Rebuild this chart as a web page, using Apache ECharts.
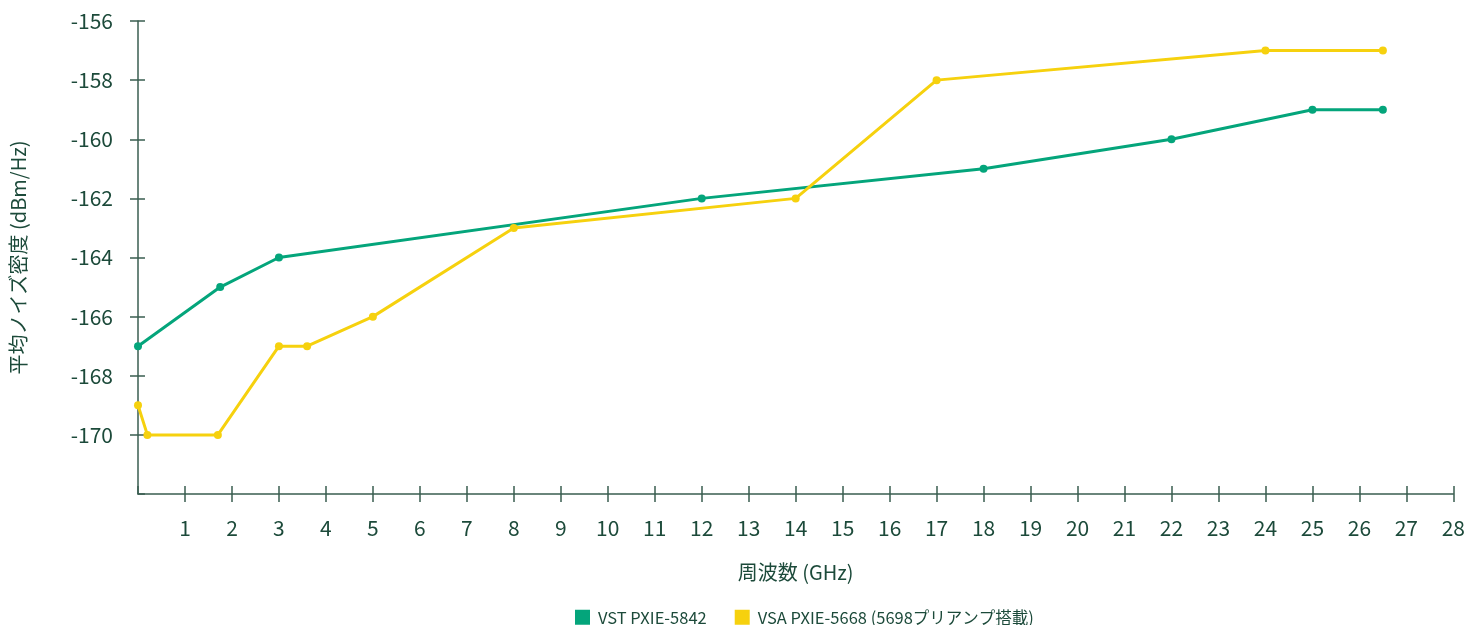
<!DOCTYPE html>
<html>
<head>
<meta charset="utf-8">
<script src="https://cdn.jsdelivr.net/npm/echarts@6/dist/echarts.min.js"></script>
<style>
  html, body { margin: 0; padding: 0; background: #fff; }
  #chart { width: 1468px; height: 625px; }
</style>
</head>
<body>
<div id="chart"></div>
<script>
// 周波数 (GHz) / 平均ノイズ密度 (dBm/Hz)
var vstName = "VST PXIE-5842";
var vstFreq = [0, 1.75, 3, 12, 18, 22, 25, 26.5];
var vstNoise = [-167, -165, -164, -162, -161, -160, -159, -159];

var vsaName = "VSA PXIE-5668 (5698プリアンプ搭載)";
var vsaFreq = [0, 0.2, 1.7, 3, 3.6, 5, 8, 14, 17, 24, 26.5];
var vsaNoise = [-169, -170, -170, -167, -167, -166, -163, -162, -158, -157, -157];

var xRange = [0, 28];
var yRange = [-172, -156];

var textColor = "#1c4a3a";
var axisColor = "#3a5e50";
var font = "'Noto Sans CJK JP', 'Noto Sans', sans-serif";

function pairs(xs, ys) {
  return xs.map(function (x, i) { return [x, ys[i]]; });
}

var chart = echarts.init(document.getElementById("chart"));

var option = {
  animation: false,
  textStyle: { fontFamily: font, color: textColor },
  grid: { left: 133, top: 21, right: 14, bottom: 131 },
  legend: {
    left: 575,
    top: 609,
    padding: 0,
    itemWidth: 15,
    itemHeight: 15,
    itemGap: 28,
    icon: "rect",
    textStyle: { fontFamily: font, fontSize: 16.5, color: textColor, padding: [0, 0, 0, 3] },
    data: [vstName, vsaName]
  },
  xAxis: [
    {
      type: "value",
      min: xRange[0],
      max: xRange[1],
      interval: 1,
      name: "周波数 (GHz)",
      nameLocation: "middle",
      nameGap: 68,
      nameTextStyle: { fontFamily: font, fontSize: 20, color: textColor },
      axisLine: { show: true, lineStyle: { color: axisColor, width: 1.5 } },
      axisTick: { show: true, length: 8, lineStyle: { color: axisColor, width: 1.5 } },
      axisLabel: {
        showMinLabel: false,
        margin: 24,
        fontFamily: font,
        fontSize: 21,
        color: textColor
      },
      splitLine: { show: false }
    },
    {
      type: "value",
      position: "bottom",
      min: xRange[0],
      max: xRange[1],
      interval: 1,
      axisLine: { show: false },
      axisTick: { show: true, inside: true, length: 8, lineStyle: { color: axisColor, width: 1.5 } },
      axisLabel: { show: false },
      splitLine: { show: false }
    }
  ],
  yAxis: [
    {
      type: "value",
      min: yRange[0],
      max: yRange[1],
      interval: 2,
      name: "平均ノイズ密度 (dBm/Hz)",
      nameLocation: "middle",
      nameGap: 110,
      nameTextStyle: { fontFamily: font, fontSize: 20, color: textColor },
      axisLine: { show: true, lineStyle: { color: axisColor, width: 1.5 } },
      axisTick: { show: true, length: 8, lineStyle: { color: axisColor, width: 1.5 } },
      axisLabel: {
        showMinLabel: false,
        margin: 25,
        fontFamily: font,
        fontSize: 21,
        color: textColor
      },
      splitLine: { show: false }
    },
    {
      type: "value",
      position: "left",
      min: yRange[0],
      max: yRange[1],
      interval: 2,
      axisLine: { show: false },
      axisTick: { show: true, inside: true, length: 7, lineStyle: { color: axisColor, width: 1.5 } },
      axisLabel: { show: false },
      splitLine: { show: false }
    }
  ],
  series: [
    {
      name: vstName,
      type: "line",
      data: pairs(vstFreq, vstNoise),
      symbol: "circle",
      symbolSize: 8,
      color: "#04a57b",
      lineStyle: { width: 3, color: "#04a57b" },
      itemStyle: { color: "#04a57b" }
    },
    {
      name: vsaName,
      type: "line",
      data: pairs(vsaFreq, vsaNoise),
      symbol: "circle",
      symbolSize: 8,
      color: "#f6d10e",
      lineStyle: { width: 3, color: "#f6d10e" },
      itemStyle: { color: "#f6d10e" }
    }
  ]
};

chart.setOption(option);
</script>
</body>
</html>
